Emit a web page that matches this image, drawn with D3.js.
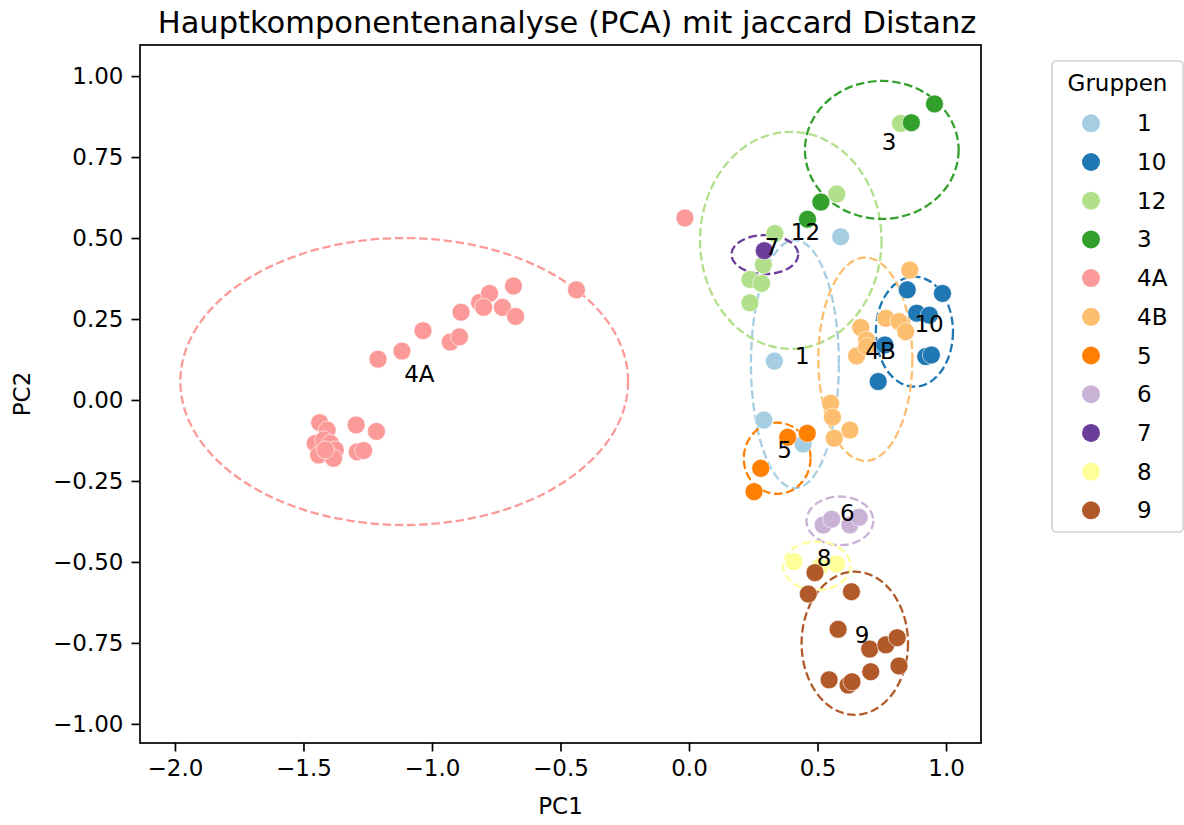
<!DOCTYPE html>
<html>
<head>
<meta charset="utf-8">
<script src="https://cdn.jsdelivr.net/npm/d3@7"></script>
<style>
	body { margin: 0; background: #fff; }
	text { font-family: "DejaVu Sans", sans-serif; }
</style>
</head>
<body>
<div class="pca"></div>
<script>
/*  ======== Data ============= */
var groups = ["1","10","12","3","4A","4B","5","6","7","8","9"];
var groupColors = ["#a6cee3","#1f78b4","#b2df8a","#33a02c","#fb9a99","#fdbf6f","#ff7f00","#cab2d6","#6a3d9a","#ffff99","#b15928"];

// one entry per sample
var pointGroup = [
	"1","1","1","1",
	"10","10","10","10","10","10","10","10",
	"12","12","12","12","12","12","12",
	"3","3","3","3",
	"4A","4A","4A","4A","4A","4A","4A","4A","4A","4A","4A","4A","4A","4A",
	"4A","4A","4A","4A","4A","4A","4A","4A","4A","4A","4A","4A","4A",
	"4B","4B","4B","4B","4B","4B","4B","4B","4B","4B","4B","4B",
	"5","5","5","5",
	"6","6","6","6",
	"7",
	"8","8","8",
	"9","9","9","9","9","9","9","9","9","9","9","9"
];
var pc1 = [
	0.590, 0.332, 0.291, 0.444,
	0.849, 0.986, 0.886, 0.935, 0.921, 0.943, 0.736, 0.762,
	0.823, 0.575, 0.334, 0.289, 0.237, 0.282, 0.237,
	0.955, 0.865, 0.513, 0.461,
	-1.210, -1.117, -1.035, -0.929, -0.893, -0.887, -0.815, -0.776, -0.799, -0.726, -0.683, -0.675, -0.438, -0.016,
	-1.437, -1.408, -1.454, -1.421, -1.395, -1.376, -1.441, -1.383, -1.415, -1.295, -1.216, -1.291, -1.266,
	0.859, 0.766, 0.817, 0.843, 0.668, 0.691, 0.652, 0.691, 0.551, 0.558, 0.626, 0.565,
	0.460, 0.384, 0.279, 0.253,
	0.522, 0.555, 0.626, 0.662,
	0.293,
	0.408, 0.574, 0.509,
	0.490, 0.464, 0.632, 0.580, 0.703, 0.766, 0.810, 0.817, 0.707, 0.545, 0.619, 0.634
];
var pc2 = [
	0.504, 0.120, -0.062, -0.136,
	0.340, 0.329, 0.268, 0.262, 0.134, 0.139, 0.057, 0.170,
	0.854, 0.636, 0.514, 0.417, 0.372, 0.360, 0.300,
	0.914, 0.856, 0.611, 0.558,
	0.126, 0.151, 0.214, 0.179, 0.195, 0.271, 0.301, 0.329, 0.286, 0.286, 0.352, 0.258, 0.340, 0.562,
	-0.070, -0.093, -0.134, -0.123, -0.134, -0.154, -0.170, -0.180, -0.154, -0.077, -0.097, -0.160, -0.156,
	0.401, 0.252, 0.242, 0.211, 0.224, 0.185, 0.136, 0.165, -0.010, -0.053, -0.093, -0.118,
	-0.103, -0.115, -0.211, -0.283,
	-0.386, -0.368, -0.386, -0.362,
	0.461,
	-0.499, -0.506, -0.515,
	-0.533, -0.599, -0.592, -0.708, -0.769, -0.756, -0.734, -0.821, -0.839, -0.864, -0.880, -0.870
];

// ellipse per group (centre = label position)
var ellCx = [0.412, 0.877, 0.396, 0.750, -1.108, 0.686, 0.343, 0.587, 0.295, 0.497, 0.645];
var ellCy = [0.111, 0.211, 0.493, 0.772, 0.057, 0.126, -0.180, -0.373, 0.449, -0.512, -0.751];
var ellRx = [0.171, 0.150, 0.353, 0.299, 0.871, 0.183, 0.130, 0.130, 0.130, 0.131, 0.207];
var ellRy = [0.383, 0.170, 0.335, 0.213, 0.443, 0.314, 0.110, 0.075, 0.060, 0.075, 0.221];

var xTicks = [-2.0, -1.5, -1.0, -0.5, 0.0, 0.5, 1.0];
var yTicks = [-1.00, -0.75, -0.50, -0.25, 0.00, 0.25, 0.50, 0.75, 1.00];
/*  ======== Data ============= */

var width = 1184, height = 825;
var plotLeft = 140, plotTop = 45, plotRight = 981, plotBottom = 743;
var fontSize = 23;
var textColor = '#000';

var svg = d3.select('.pca')
			.append('svg')
			.attr('width', width)
			.attr('height', height);

var x = d3.scaleLinear().domain([-2.136, 1.136]).range([plotLeft, plotRight]);
var y = d3.scaleLinear().domain([-1.059, 1.096]).range([plotBottom, plotTop]);
var color = d3.scaleOrdinal().domain(groups).range(groupColors);

// ellipses
svg.append('g')
	.selectAll('ellipse')
	.data(groups)
	.enter()
	.append('ellipse')
	.attr('cx', function(d, i){ return x(ellCx[i]); })
	.attr('cy', function(d, i){ return y(ellCy[i]); })
	.attr('rx', function(d, i){ return x(ellRx[i]) - x(0); })
	.attr('ry', function(d, i){ return y(0) - y(ellRy[i]); })
	.attr('fill', 'none')
	.attr('stroke', function(d){ return color(d); })
	.attr('stroke-width', 2.3)
	.attr('stroke-dasharray', '8.5,3.7');

// points
var pts = pointGroup.map(function(g, i){ return {g: g, x: pc1[i], y: pc2[i]}; });
svg.append('g')
	.selectAll('circle')
	.data(pts)
	.enter()
	.append('circle')
	.attr('cx', function(d){ return x(d.x); })
	.attr('cy', function(d){ return y(d.y); })
	.attr('r', 9)
	.attr('fill', function(d){ return color(d.g); })
	.attr('stroke', '#fff')
	.attr('stroke-width', 0.6);

// group labels
svg.append('g')
	.selectAll('text')
	.data(groups)
	.enter()
	.append('text')
	.attr('x', function(d, i){ return x(ellCx[i]); })
	.attr('y', function(d, i){ return y(ellCy[i]); })
	.attr('font-size', fontSize)
	.attr('fill', textColor)
	.text(function(d){ return d; });

// axes
var fmtX = function(d){ return d3.format('.1f')(d).replace('-', '\u2212'); };
var fmtY = function(d){ return d3.format('.2f')(d).replace('-', '\u2212'); };
var xAxis = svg.append('g')
	.attr('transform', 'translate(0,' + plotBottom + ')')
	.call(d3.axisBottom(x).tickValues(xTicks).tickFormat(fmtX).tickSize(8.5).tickPadding(8));
var yAxis = svg.append('g')
	.attr('transform', 'translate(' + plotLeft + ',0)')
	.call(d3.axisLeft(y).tickValues(yTicks).tickFormat(fmtY).tickSize(8.5).tickPadding(8));
[xAxis, yAxis].forEach(function(a){
	a.select('.domain').remove();
	a.selectAll('line').attr('stroke', '#000').attr('stroke-width', 1.7);
	a.selectAll('text').attr('font-size', fontSize).attr('fill', textColor).attr('font-family', 'DejaVu Sans');
});

svg.append('rect')
	.attr('x', plotLeft)
	.attr('y', plotTop)
	.attr('width', plotRight - plotLeft)
	.attr('height', plotBottom - plotTop)
	.attr('fill', 'none')
	.attr('stroke', '#000')
	.attr('stroke-width', 1.7);

// titles
svg.append('text')
	.attr('x', 567)
	.attr('y', 33)
	.attr('text-anchor', 'middle')
	.attr('font-size', 30.5)
	.text('Hauptkomponentenanalyse (PCA) mit jaccard Distanz');
svg.append('text')
	.attr('x', (plotLeft + plotRight) / 2)
	.attr('y', 814)
	.attr('text-anchor', 'middle')
	.attr('font-size', fontSize)
	.text('PC1');
svg.append('text')
	.attr('transform', 'translate(30,' + ((plotTop + plotBottom) / 2) + ') rotate(-90)')
	.attr('text-anchor', 'middle')
	.attr('font-size', fontSize)
	.text('PC2');

// legend
var legX = 1052, legY = 61, legRow = 38.7;
var legend = svg.append('g');
legend.append('rect')
	.attr('x', legX)
	.attr('y', legY)
	.attr('width', 131)
	.attr('height', 471)
	.attr('rx', 4)
	.attr('fill', '#fff')
	.attr('stroke', '#d4d4d4')
	.attr('stroke-width', 1.7);
legend.append('text')
	.attr('x', legX + 65.5)
	.attr('y', legY + 30)
	.attr('text-anchor', 'middle')
	.attr('font-size', fontSize)
	.text('Gruppen');
var rows = legend.selectAll('.row')
	.data(groups)
	.enter()
	.append('g')
	.attr('class', 'row')
	.attr('transform', function(d, i){ return 'translate(0,' + (legY + 62.3 + legRow * i) + ')'; });
rows.append('circle')
	.attr('cx', legX + 39)
	.attr('cy', 0)
	.attr('r', 9)
	.attr('fill', function(d){ return color(d); });
rows.append('text')
	.attr('x', legX + 85)
	.attr('y', 8)
	.attr('font-size', fontSize)
	.text(function(d){ return d; });
</script>
</body>
</html>
